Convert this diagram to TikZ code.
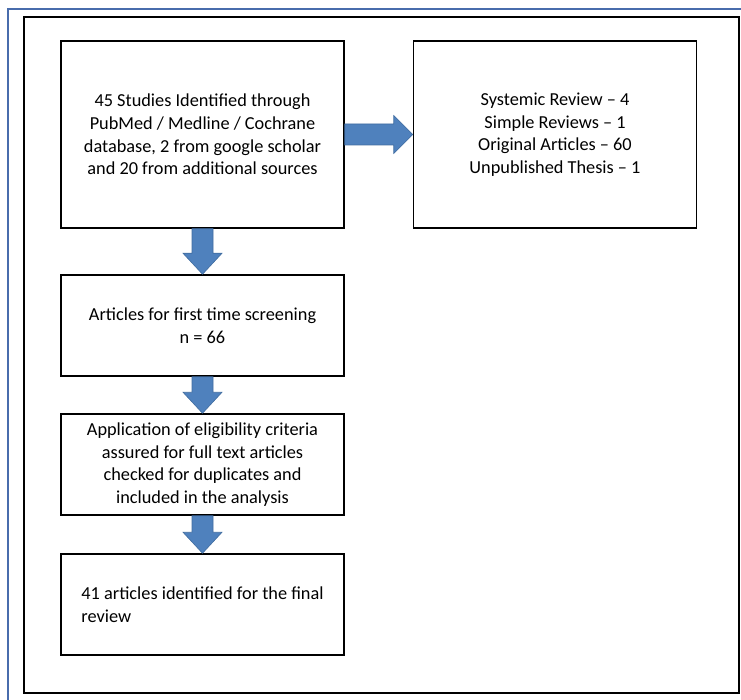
\documentclass[tikz,border=0pt]{standalone}
\usepackage{fontspec}
\setmainfont{Carlito}
\usepackage{xcolor}
\usepackage{tikz}
\usetikzlibrary{shapes,arrows,positioning,calc}

\definecolor{arrowblue}{RGB}{79,129,189}
\definecolor{arrowedge}{RGB}{64,108,160}
\definecolor{frameblue}{RGB}{72,108,172}

\newcommand{\blockdown}[2]{%
  \filldraw[blockarrow] let \p1=(#1.south), \p2=(#2.north) in
    (\x1-10.5pt,\y1) -- (\x1-10.5pt,\y2+21pt) -- (\x1-19.5pt,\y2+21pt)
    -- (\x1,\y2) -- (\x1+19.5pt,\y2+21pt) -- (\x1+10.5pt,\y2+21pt)
    -- (\x1+10.5pt,\y1) -- cycle;}
\newcommand{\blockright}[2]{%
  \filldraw[blockarrow] let \p1=(#1.east), \p2=(#2.west) in
    (\x1,\y1+10.5pt) -- (\x2-19pt,\y1+10.5pt) -- (\x2-19pt,\y1+19pt)
    -- (\x2,\y1) -- (\x2-19pt,\y1-19pt) -- (\x2-19pt,\y1-10.5pt)
    -- (\x1,\y1-10.5pt) -- cycle;}

\begin{document}
\begin{tikzpicture}[
    x=1pt, y=-1pt,
    node distance=139pt,
    every node/.style={font=\fontsize{18.3}{22.6}\selectfont},
    block/.style={
        rectangle,
        draw,
        line width=1.5pt,
        fill=white,
        align=center,
        minimum width=283pt,
        minimum height=101pt,
        inner sep=2pt
    },
    tallblock/.style={
        block,
        minimum height=187pt
    },
    blockarrow/.style={fill=arrowblue, draw=arrowedge, line width=0.6pt}
]
\useasboundingbox (0,0) rectangle (741,700);

% Frames
\draw[frameblue, line width=1.5pt] (8,9) rectangle (760,720);
\draw[line width=1.5pt] (24,17) rectangle (739,693);

% Nodes
\node[tallblock] (found) at (202.5,134.5)
{45 Studies Identified through\\PubMed / Medline / Cochrane\\database, 2 from google scholar\\and 20 from additional sources};

\node[tallblock, right of=found, xshift=213.5pt] (types)
{Systemic Review -- 4\\Simple Reviews -- 1\\Original Articles -- 60\\Unpublished Thesis -- 1};

\node[block, below of=found, yshift=-52pt] (screen)
{Articles for first time screening\\n = 66};

\node[block, below of=screen] (elig)
{Application of eligibility criteria\\assured for full text articles\\checked for duplicates and\\included in the analysis};

\node[block, below of=elig, yshift=-1pt, align=left] (final)
{41 articles identified for the final\\review};

% Arrows
\blockright{found}{types}
\blockdown{found}{screen}
\blockdown{screen}{elig}
\blockdown{elig}{final}

\end{tikzpicture}
\end{document}
